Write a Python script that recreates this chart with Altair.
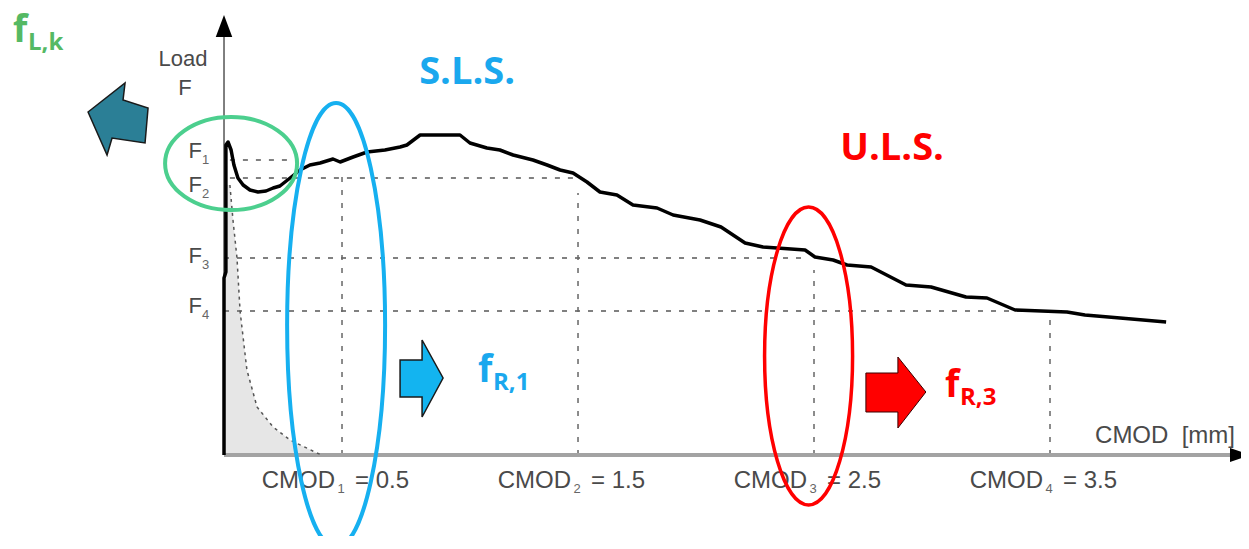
import altair as alt
import pandas as pd

# ---------------- data (CMOD in mm, load in kN) ----------------
curve_cmod = [0.000, 0.000, 0.008, 0.008, 0.017, 0.030, 0.042, 0.059, 0.081, 0.110,
              0.144, 0.178, 0.208, 0.237, 0.280, 0.322, 0.364, 0.407, 0.462, 0.492,
              0.547, 0.606, 0.682, 0.746, 0.775, 0.831, 1.000, 1.042, 1.114, 1.169,
              1.225, 1.309, 1.369, 1.424, 1.479, 1.538, 1.593, 1.665, 1.733, 1.835,
              1.903, 2.017, 2.106, 2.208, 2.284, 2.462, 2.504, 2.581, 2.640, 2.742,
              2.890, 2.996, 3.144, 3.233, 3.352, 3.572, 3.648, 3.797, 3.992]
curve_load = [0.0, 17.7, 18.3, 31.0, 31.3, 30.5, 29.0, 27.7, 27.0, 26.5,
              26.3, 26.4, 26.7, 26.9, 27.7, 28.5, 29.0, 29.2, 29.6, 29.3,
              29.8, 30.3, 30.5, 30.8, 31.0, 32.0, 32.0, 31.2, 30.7, 30.5,
              30.0, 29.5, 29.0, 28.5, 28.2, 27.3, 26.3, 26.0, 25.0, 24.7,
              24.0, 23.5, 22.8, 21.2, 20.8, 20.5, 19.8, 19.5, 19.0, 18.8,
              17.0, 16.8, 15.8, 15.7, 14.5, 14.3, 14.0, 13.7, 13.3]

decay_cmod = [0.0, 0.025, 0.038, 0.055, 0.068, 0.097, 0.140, 0.208, 0.280, 0.394, 0.415]
decay_load = [27.0, 27.0, 23.5, 19.7, 14.4, 8.5, 4.8, 2.8, 1.5, 0.2, 0.0]

cmod_values = [0.5, 1.5, 2.5, 3.5]
cmod_subs = ["1", "2", "3", "4"]
cmod_value_text = ["= 0.5", "= 1.5", "= 2.5", "= 3.5"]
cmod_line_top = [27.8, 26.2, 18.5, 14.0]

f_levels = [29.5, 27.7, 19.7, 14.4]
f_line_start = [0.025, 0.025, 0.0, 0.0]
f_line_end = [0.30, 1.48, 2.45, 3.45]
f_label_base = [29.7, 26.3, 19.2, 14.2]
f_subs = ["1", "2", "3", "4"]

axis_title_text = ["Load", "F"]
axis_title_x = [-0.174, -0.165]
axis_title_y = [38.9, 36.0]

big_f_x = [-0.894, 1.076, 3.055]
big_f_y = [41.3, 7.3, 5.8]
big_f_sub = ["L,k", "R,1", "R,3"]
big_f_color = ["#55b964", "#1aa8ee", "#ff0000"]

state_text = ["S.L.S.", "U.L.S."]
state_x = [1.030, 2.831]
state_y = [37.1, 29.5]
state_color = ["#1aa8ee", "#ff0000"]

# ellipse centres (cmod, load)
green_ell = (0.030, 29.15)
blue_ell = (0.475, 13.0)
red_ell = (2.477, 9.9)
# arrow centres
teal_arrow = (-0.449, 33.6)
blue_arrow = (0.835, 7.7)
red_arrow = (2.847, 6.3)

# ---------------- helpers ----------------
xs = alt.Scale(domain=[-0.9153, 4.3093], nice=False, zero=False)
ys = alt.Scale(domain=[-8.1, 44.7], nice=False, zero=False)


def X(f):
    return alt.X(f, type="quantitative", scale=xs, axis=None)


def Y(f):
    return alt.Y(f, type="quantitative", scale=ys, axis=None)


def ellipse_path(ax, ay):
    k = 0.5523
    return (f"M {-ax} 0 C {-ax} {-k*ay} {-k*ax} {-ay} 0 {-ay} "
            f"C {k*ax} {-ay} {ax} {-k*ay} {ax} 0 "
            f"C {ax} {k*ay} {k*ax} {ay} 0 {ay} "
            f"C {-k*ax} {ay} {-ax} {k*ay} {-ax} 0 Z")


def pt(c):
    return pd.DataFrame({"x": [c[0]], "y": [c[1]]})


LABEL_FONT = "Liberation Sans"
BOLD_FONT = "Open Sans"
GREY = "#4a4a4a"

curve_df = pd.DataFrame({"x": curve_cmod, "y": curve_load, "i": range(len(curve_cmod))})
area_df = pd.DataFrame({"x": decay_cmod, "y": decay_load})
decay_df = pd.DataFrame({"x": decay_cmod[1:], "y": decay_load[1:], "i": range(len(decay_cmod) - 1)})
hline_df = pd.DataFrame({"x": f_line_start, "x2": f_line_end, "y": f_levels})
vline_df = pd.DataFrame({"x": cmod_values, "y": [0.0] * 4, "y2": cmod_line_top})
cmod_df = pd.DataFrame({"x": cmod_values, "y": [-3.3] * 4, "sub": cmod_subs, "val": cmod_value_text})
flab_df = pd.DataFrame({"x": [-0.093] * 4, "y": f_label_base, "sub": f_subs})
title_df = pd.DataFrame({"x": axis_title_x, "y": axis_title_y, "t": axis_title_text})
bigf_df = pd.DataFrame({"x": big_f_x, "y": big_f_y, "sub": big_f_sub, "c": big_f_color})
state_df = pd.DataFrame({"x": state_x, "y": state_y, "t": state_text, "c": state_color})

layers = []

# shaded area under decay curve
layers.append(alt.Chart(area_df).mark_area(color="#e6e6e6", opacity=1).encode(
    x=X("x"), y=Y("y")))

# dashed guide lines
layers.append(alt.Chart(hline_df).mark_rule(color="#808080", strokeWidth=2, strokeDash=[5, 8]).encode(
    x=X("x"), x2="x2", y=Y("y")))
layers.append(alt.Chart(vline_df).mark_rule(color="#666666", strokeWidth=1.5, strokeDash=[5, 8]).encode(
    x=X("x"), y=Y("y"), y2="y2"))

# axes
layers.append(alt.Chart(pd.DataFrame({"x": [0.0, 4.30], "y": [0.0, 0.0]})).mark_line(
    color="#a3a3a3", strokeWidth=4).encode(x=X("x"), y=Y("y")))
layers.append(alt.Chart(pd.DataFrame({"x": [0.0, 0.0], "y": [0.0, 43.0], "i": [0, 1]})).mark_line(
    color="#555555", strokeWidth=1.5).encode(x=X("x"), y=Y("y"), order="i"))
layers.append(alt.Chart(pt((0.0, 42.9))).mark_point(
    shape="M 0 -1 L 0.75 1 L -0.75 1 Z", filled=True, color="black", opacity=1, size=484).encode(
    x=X("x"), y=Y("y")))
layers.append(alt.Chart(pt((4.305, 0.0))).mark_point(
    shape="M 1 0 L -1 -0.7 L -1 0.7 Z", filled=True, color="black", opacity=1, size=400).encode(
    x=X("x"), y=Y("y")))

# decay dashed curve
layers.append(alt.Chart(decay_df).mark_line(color="#555555", strokeWidth=1.5, strokeDash=[3, 4]).encode(
    x=X("x"), y=Y("y"), order="i"))

# main load-CMOD curve
layers.append(alt.Chart(curve_df).mark_line(color="black", strokeWidth=3.5, strokeJoin="round").encode(
    x=X("x"), y=Y("y"), order="i"))

# arrows
layers.append(alt.Chart(pt(teal_arrow)).mark_point(
    shape="M -0.75 -0.175 L 0.175 -0.9 L 0.125 -0.475 L 0.75 -0.275 L 0.675 0.6 L -0.15 0.475 L -0.275 0.9 Z",
    filled=True, fill="#2b7f96", stroke="#1a1a1a", strokeWidth=1.5, opacity=1, size=6400).encode(
    x=X("x"), y=Y("y")))
layers.append(alt.Chart(pt(blue_arrow)).mark_point(
    shape="M -0.525 -0.45 L 0.025 -0.45 L 0.025 -0.95 L 0.55 0 L 0.025 0.975 L 0.025 0.475 L -0.525 0.475 Z",
    filled=True, fill="#13b4f0", stroke="#1a1a1a", strokeWidth=1.5, opacity=1, size=6400).encode(
    x=X("x"), y=Y("y")))
layers.append(alt.Chart(pt(red_arrow)).mark_point(
    shape="M -0.75 -0.475 L 0.05 -0.475 L 0.05 -0.875 L 0.75 0 L 0.05 0.9 L 0.05 0.5 L -0.75 0.5 Z",
    filled=True, fill="#ff0000", stroke="#3a0000", strokeWidth=1, opacity=1, size=6400).encode(
    x=X("x"), y=Y("y")))

# texts
layers.append(alt.Chart(title_df).mark_text(font=LABEL_FONT, fontSize=22, color=GREY, align="center",
                                            baseline="alphabetic").encode(x=X("x"), y=Y("y"), text="t"))
layers.append(alt.Chart(flab_df).mark_text(font=LABEL_FONT, fontSize=22, color=GREY, align="right",
                                           baseline="alphabetic", text="F").encode(x=X("x"), y=Y("y")))
layers.append(alt.Chart(flab_df).mark_text(font=LABEL_FONT, fontSize=13, color="#666666", align="left",
                                           baseline="alphabetic", dx=0, dy=6).encode(x=X("x"), y=Y("y"), text="sub"))
layers.append(alt.Chart(cmod_df).mark_text(font=LABEL_FONT, fontSize=24, color=GREY, align="right",
                                           baseline="alphabetic", dx=-7, text="CMOD").encode(x=X("x"), y=Y("y")))
layers.append(alt.Chart(cmod_df).mark_text(font=LABEL_FONT, fontSize=13, color="#666666", align="center",
                                           baseline="alphabetic", dx=-1, dy=5).encode(x=X("x"), y=Y("y"), text="sub"))
layers.append(alt.Chart(cmod_df).mark_text(font=LABEL_FONT, fontSize=24, color=GREY, align="left",
                                           baseline="alphabetic", dx=13).encode(x=X("x"), y=Y("y"), text="val"))
layers.append(alt.Chart(pt((4.284, 1.2))).mark_text(font=LABEL_FONT, fontSize=24, color=GREY, align="right",
                                                    baseline="alphabetic", text="CMOD\u00a0\u00a0[mm]").encode(
    x=X("x"), y=Y("y")))

layers.append(alt.Chart(state_df).mark_text(font=BOLD_FONT, fontWeight="bold", fontSize=38, align="center",
                                            baseline="alphabetic").encode(
    x=X("x"), y=Y("y"), text="t", color=alt.Color("c:N", scale=None)))
layers.append(alt.Chart(bigf_df).mark_text(font=BOLD_FONT, fontWeight="bold", fontSize=37, align="left",
                                           baseline="alphabetic", text="f").encode(
    x=X("x"), y=Y("y"), color=alt.Color("c:N", scale=None)))
layers.append(alt.Chart(bigf_df).mark_text(font=BOLD_FONT, fontWeight="bold", fontSize=24, align="left",
                                           baseline="alphabetic", dx=15, dy=8).encode(
    x=X("x"), y=Y("y"), text="sub", color=alt.Color("c:N", scale=None)))

# ellipses
layers.append(alt.Chart(pt(green_ell)).mark_point(
    shape=ellipse_path(1.0, 0.7045), filled=False, stroke="#4ccf8e", strokeWidth=4, opacity=1,
    size=17424).encode(x=X("x"), y=Y("y")))
layers.append(alt.Chart(pt(blue_ell)).mark_point(
    shape=ellipse_path(0.2207, 1.0), filled=False, stroke="#16b0f0", strokeWidth=4, opacity=1,
    size=197136).encode(x=X("x"), y=Y("y")))
layers.append(alt.Chart(pt(red_ell)).mark_point(
    shape=ellipse_path(0.2953, 1.0), filled=False, stroke="#ff0000", strokeWidth=3.5, opacity=1,
    size=88804).encode(x=X("x"), y=Y("y")))

chart = alt.layer(*layers).properties(
    width=1233, height=528, padding=0, autosize=alt.AutoSizeParams(type="none"),
    background="white",
).configure_view(stroke=None)

chart.save("out.html", embed_options={"renderer": "svg", "actions": False})
